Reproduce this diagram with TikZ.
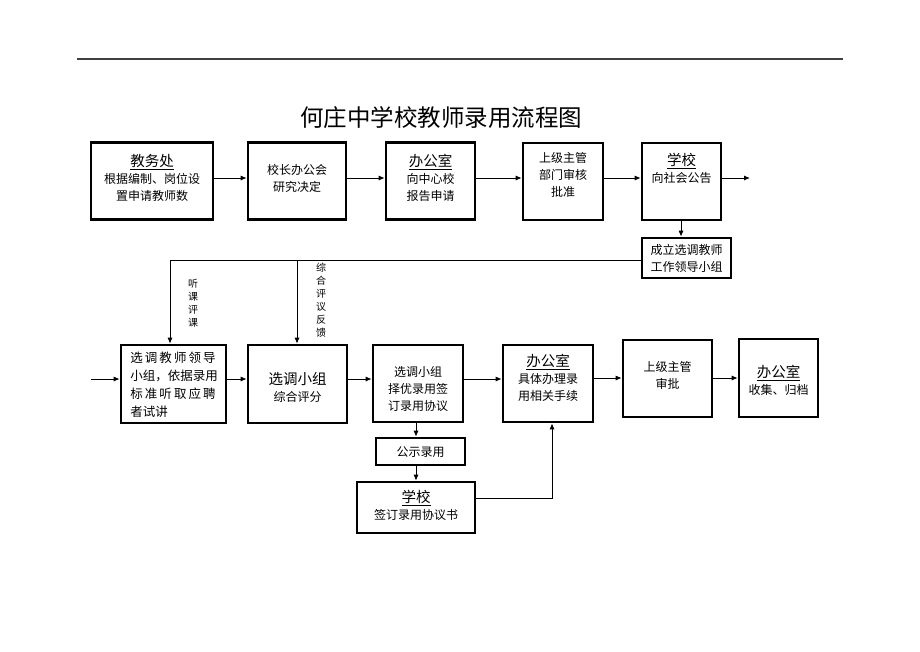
\documentclass[tikz,border=0pt]{standalone}
\usepackage{fontspec}
\setmainfont{Noto Sans CJK SC}
\usetikzlibrary{arrows.meta}
\tikzset{
  box/.style={draw=black, line width=2.6pt, inner sep=0pt, fill=white},
  txt/.style={align=center, inner sep=0pt, font=\fontsize{12}{17}\selectfont},
  vtxt/.style={align=center, inner sep=0pt, font=\fontsize{10}{13}\selectfont},
  conn/.style={draw=black, line width=0.9pt},
  arr/.style={conn, -{Latex[length=6pt,width=5pt]}},
}
\newcommand{\hd}[1]{{\fontsize{14.5}{17}\selectfont\underline{#1}}}
\begin{document}
\begin{tikzpicture}[x=1pt,y=-1pt]
\useasboundingbox (0,0) rectangle (920,651);
% top rule
\coordinate (r1) at (77,59);
\coordinate (r2) at (843,59);
\draw[line width=1.2pt, black!75] (r1) -- (r2);
% title
\node[inner sep=0pt, font=\fontsize{23.5}{26}\selectfont] (title) at (441,118) {何庄中学校教师录用流程图};

% row 1 boxes
\node[box, minimum width=122pt, minimum height=77pt] (b1) at (152,181) {};
\node[box, minimum width=98pt, minimum height=77pt] (b2) at (297,181) {};
\node[box, minimum width=89pt, minimum height=77pt] (b3) at (430.5,181) {};
\node[box, minimum width=80pt, minimum height=77pt] (b4) at (563,181.5) {};
\node[box, minimum width=79pt, minimum height=77pt] (b5) at (681.5,181.5) {};
\node[box, minimum width=89pt, minimum height=40pt] (b6) at (686.5,258) {};

\node[txt] (t1) at (152,178) {\hd{教务处}\\根据编制、岗位设\\置申请教师数};
\node[txt] (t2) at (297,178) {校长办公会\\研究决定};
\node[txt] (t3) at (430.5,178) {\hd{办公室}\\向中心校\\报告申请};
\node[txt] (t4) at (563,175) {上级主管\\部门审核\\批准};
\node[txt] (t5) at (681.5,168) {\hd{学校}\\向社会公告};
\node[txt] (t6) at (686.5,258.5) {成立选调教师\\工作领导小组};

\coordinate (e5) at (750,178);
\coordinate (d5) at (681,0);
\draw[arr] (b1.east |- 0,178) -- (b2.west |- 0,178);
\draw[arr] (b2.east |- 0,178) -- (b3.west |- 0,178);
\draw[arr] (b3.east |- 0,178) -- (b4.west |- 0,178);
\draw[arr] (b4.east |- 0,178) -- (b5.west |- 0,178);
\draw[arr] (b5.east |- e5) -- (e5);
\draw[arr] (b5.south -| d5) -- (b6.north -| d5);

% row 2 boxes
\node[box, minimum width=105pt, minimum height=78pt] (b7) at (173.5,384) {};
\node[box, minimum width=99pt, minimum height=78pt] (b8) at (297.5,384) {};
\node[box, minimum width=90pt, minimum height=77pt] (b9) at (418,383.5) {};
\node[box, minimum width=90pt, minimum height=77pt] (b10) at (548,383.5) {};
\node[box, minimum width=89pt, minimum height=77pt] (b11) at (667.5,378.5) {};
\node[box, minimum width=79pt, minimum height=78pt] (b12) at (778.5,378) {};
\node[box, minimum width=89pt, minimum height=27pt] (b13) at (420.5,451.5) {};
\node[box, minimum width=118pt, minimum height=51pt] (b14) at (416,507.5) {};

\node[txt, align=left, font=\fontsize{12.5}{18}\selectfont] (t7) at (174,385) {选\,调\,教\,师\,领\,导\\小组，依据录用\\标\,准\,听\,取\,应\,聘\\者试讲};
\node[txt] (t8) at (297.5,387) {{\fontsize{14.5}{17}\selectfont 选调小组}\\综合评分};
\node[txt] (t9) at (418,389) {选调小组\\择优录用签\\订录用协议};
\node[txt] (t10) at (548,378) {\hd{办公室}\\具体办理录\\用相关手续};
\node[txt] (t11) at (667.5,375) {上级主管\\审批};
\node[txt] (t12) at (778.5,380) {\hd{办公室}\\收集、归档};
\node[txt] (t13) at (420.5,452.5) {公示录用};
\node[txt] (t14) at (416,505) {\hd{学校}\\签订录用协议书};

% feedback lines from b6
\coordinate (fl) at (170,260);
\coordinate (fm) at (297,260);
\draw[conn] (b6.west |- fl) -- (fl);
\draw[arr] (fl) -- (fl |- b7.north);
\draw[arr] (fm) -- (fm |- b8.north);
\node[vtxt] (l1) at (193,303) {听\\课\\评\\课};
\node[vtxt] (l2) at (321,300) {综\\合\\评\\议\\反\\馈};

% row 2 arrows
\coordinate (s7) at (91,379);
\draw[arr] (s7) -- (b7.west |- s7);
\draw[arr] (b7.east |- 0,379) -- (b8.west |- 0,379);
\draw[arr] (b8.east |- 0,379) -- (b9.west |- 0,379);
\draw[arr] (b9.east |- 0,379) -- (b10.west |- 0,379);
\draw[arr] (b10.east |- 0,378) -- (b11.west |- 0,378);
\draw[arr] (b11.east |- 0,378) -- (b12.west |- 0,378);
\draw[arr] (b9.south -| 416,0) -- (b13.north -| 416,0);
\draw[arr] (b13.south -| 416,0) -- (b14.north -| 416,0);
\coordinate (c14) at (552,498);
\draw[arr] (b14.east |- c14) -- (c14) -- (c14 |- b10.south);
\end{tikzpicture}
\end{document}
